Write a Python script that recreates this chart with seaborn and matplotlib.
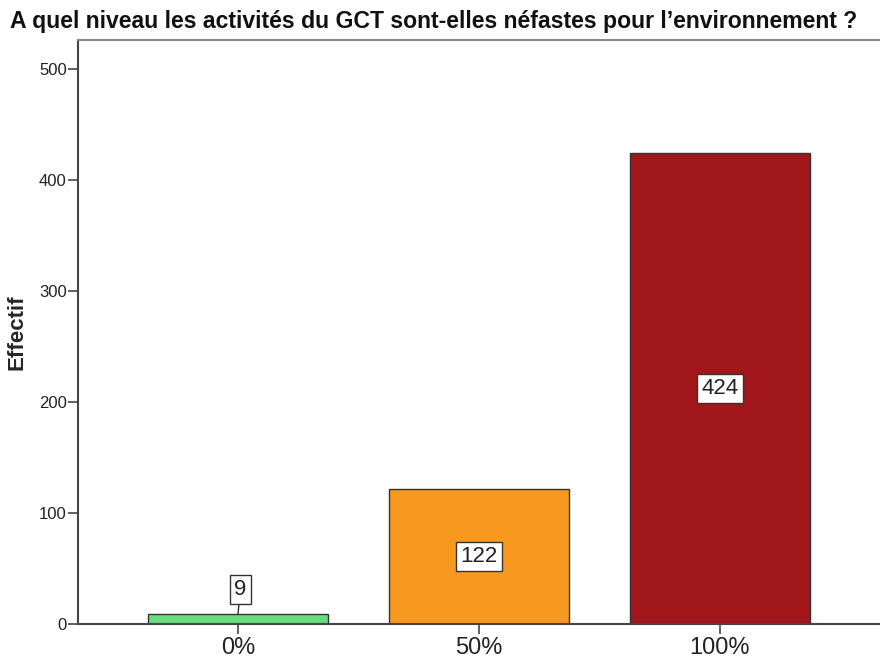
import numpy as np
import pandas as pd
import matplotlib
matplotlib.use('Agg')
import matplotlib.pyplot as plt
import seaborn as sns

sns.set_style('white')
plt.rcParams['font.family'] = ['Liberation Sans', 'DejaVu Sans']

# données
categories = ['0%', '50%', '100%']
effectifs = [9, 122, 424]
couleurs = ['#6bdc7e', '#f7991f', '#a0161a']

df = pd.DataFrame({'niveau': categories, 'effectif': effectifs})

fig = plt.figure(figsize=(8.8, 6.59), dpi=100)
ax = fig.add_axes([0.0886, 0.0531, 0.9114, 0.8862])

sns.barplot(data=df, x='niveau', y='effectif', hue='niveau', palette=couleurs,
            width=0.75, edgecolor='#333333', linewidth=1.0, saturation=1,
            legend=False, ax=ax)

ax.set_xlim(-0.664, 2.664)
ax.set_ylim(0, 526)
ax.set_yticks([0, 100, 200, 300, 400, 500])
ax.set_xlabel('')
ax.set_ylabel('Effectif', fontsize=16, fontweight='bold')
ax.yaxis.set_label_coords(-0.063, 0.5)
ax.tick_params(axis='y', labelsize=12, length=7, width=1.2, color='#444444',
               left=True, pad=1)
ax.tick_params(axis='x', labelsize=17, length=7, width=1.2, color='#444444',
               bottom=True, pad=2)
for lab in ax.get_xticklabels() + ax.get_yticklabels():
    lab.set_color('#222222')

for side in ['left', 'bottom']:
    ax.spines[side].set_color('#444444')
    ax.spines[side].set_linewidth(1.5)
ax.spines['top'].set_color('#888888')
ax.spines['top'].set_linewidth(1.5)
ax.spines['right'].set_visible(False)

# étiquettes de valeurs dans des cadres blancs
bbox = dict(boxstyle='square,pad=0.18', facecolor='white', edgecolor='#333333', linewidth=1)
for i, v in enumerate(effectifs):
    if v < 30:
        ax.annotate(str(v), xy=(i, v), xytext=(i + 0.01, v + 22),
                    ha='center', va='center', fontsize=16, color='#222222', bbox=bbox,
                    arrowprops=dict(arrowstyle='-', color='#333333', lw=1,
                                    shrinkA=0, shrinkB=0))
    else:
        ax.text(i, v / 2, str(v), ha='center', va='center', fontsize=16,
                color='#222222', bbox=bbox)

fig.text(0.011, 0.967, 'A quel niveau les activités du GCT sont-elles néfastes pour l\u2019environnement ?',
         fontsize=16.6, fontweight='bold', ha='left', va='center', color='#111111')

fig.savefig('out.png', dpi=100)
